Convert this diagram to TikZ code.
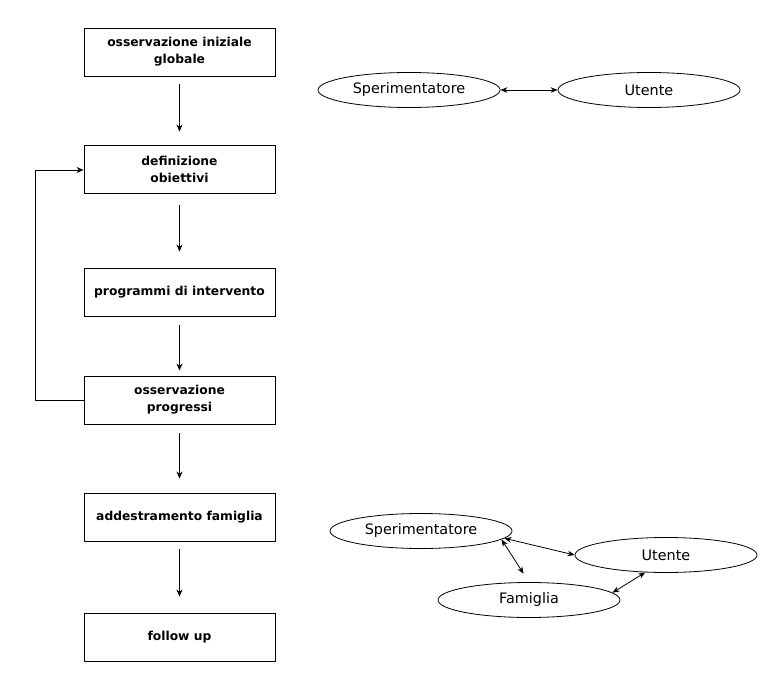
\documentclass[tikz,border=0pt]{standalone}
\usepackage{fontspec}
\setmainfont{DejaVu Sans}
\usetikzlibrary{arrows.meta,shapes.geometric}

\begin{document}
\begin{tikzpicture}[
  x=1pt, y=-1pt,
  stepbox/.style={draw, line width=0.9pt, minimum width=191pt, minimum height=48pt, inner sep=2pt,
    align=center, font=\bfseries\fontsize{12.3}{17}\selectfont},
  actor/.style={ellipse, draw, line width=0.8pt, minimum width=182pt, minimum height=35pt, inner sep=0pt,
    font=\fontsize{14.4}{17}\selectfont},
  flow/.style={line width=0.9pt, -{Stealth[length=7pt,width=6pt]}},
  link/.style={line width=0.8pt, {Stealth[length=7pt,width=5.5pt]}-{Stealth[length=7pt,width=5.5pt]}}
]
\useasboundingbox (0,0) rectangle (764,679);

% Left column: steps of the procedure
\node[stepbox] (s1) at (179.5, 52) {osservazione iniziale\\globale};
\node[stepbox] (s2) at (179.5, 169) {definizione\\obiettivi};
\node[stepbox] (s3) at (179.5, 292) {programmi di intervento};
\node[stepbox] (s4) at (179.5, 400) {osservazione\\progressi};
\node[stepbox] (s5) at (179.5, 517) {addestramento famiglia};
\node[stepbox] (s6) at (179.5, 637) {follow up};
\draw[flow, shorten <=8pt, shorten >=13pt] (s1) -- (s2);
\draw[flow, shorten <=12pt, shorten >=16pt] (s2) -- (s3);
\draw[flow, shorten <=9pt, shorten >=5pt] (s3) -- (s4);
\draw[flow, shorten <=9pt, shorten >=14pt] (s4) -- (s5);
\draw[flow, shorten <=8pt, shorten >=16pt] (s5) -- (s6);

% Feedback loop
\draw[flow] (s4.west) -| (35.5, 170) -- (s2.west |- 0, 170);

% Top right: two actors
\node[actor] (sp1) at (409, 90) {Sperimentatore};
\node[actor] (ut1) at (649, 90) {Utente};
\draw[link] (sp1) -- (ut1);

% Bottom right: three actors
\node[actor] (sp2) at (421, 531) {Sperimentatore};
\node[actor] (ut2) at (666, 555) {Utente};
\node[actor] (fa2) at (529, 600) {Famiglia};
\draw[link] (sp2.-5) -- (ut2.west);
\draw[link, shorten >=10pt] (sp2.-6) -- (fa2.north);
\draw[link] (fa2.5) -- (ut2.-140);
\end{tikzpicture}
\end{document}
